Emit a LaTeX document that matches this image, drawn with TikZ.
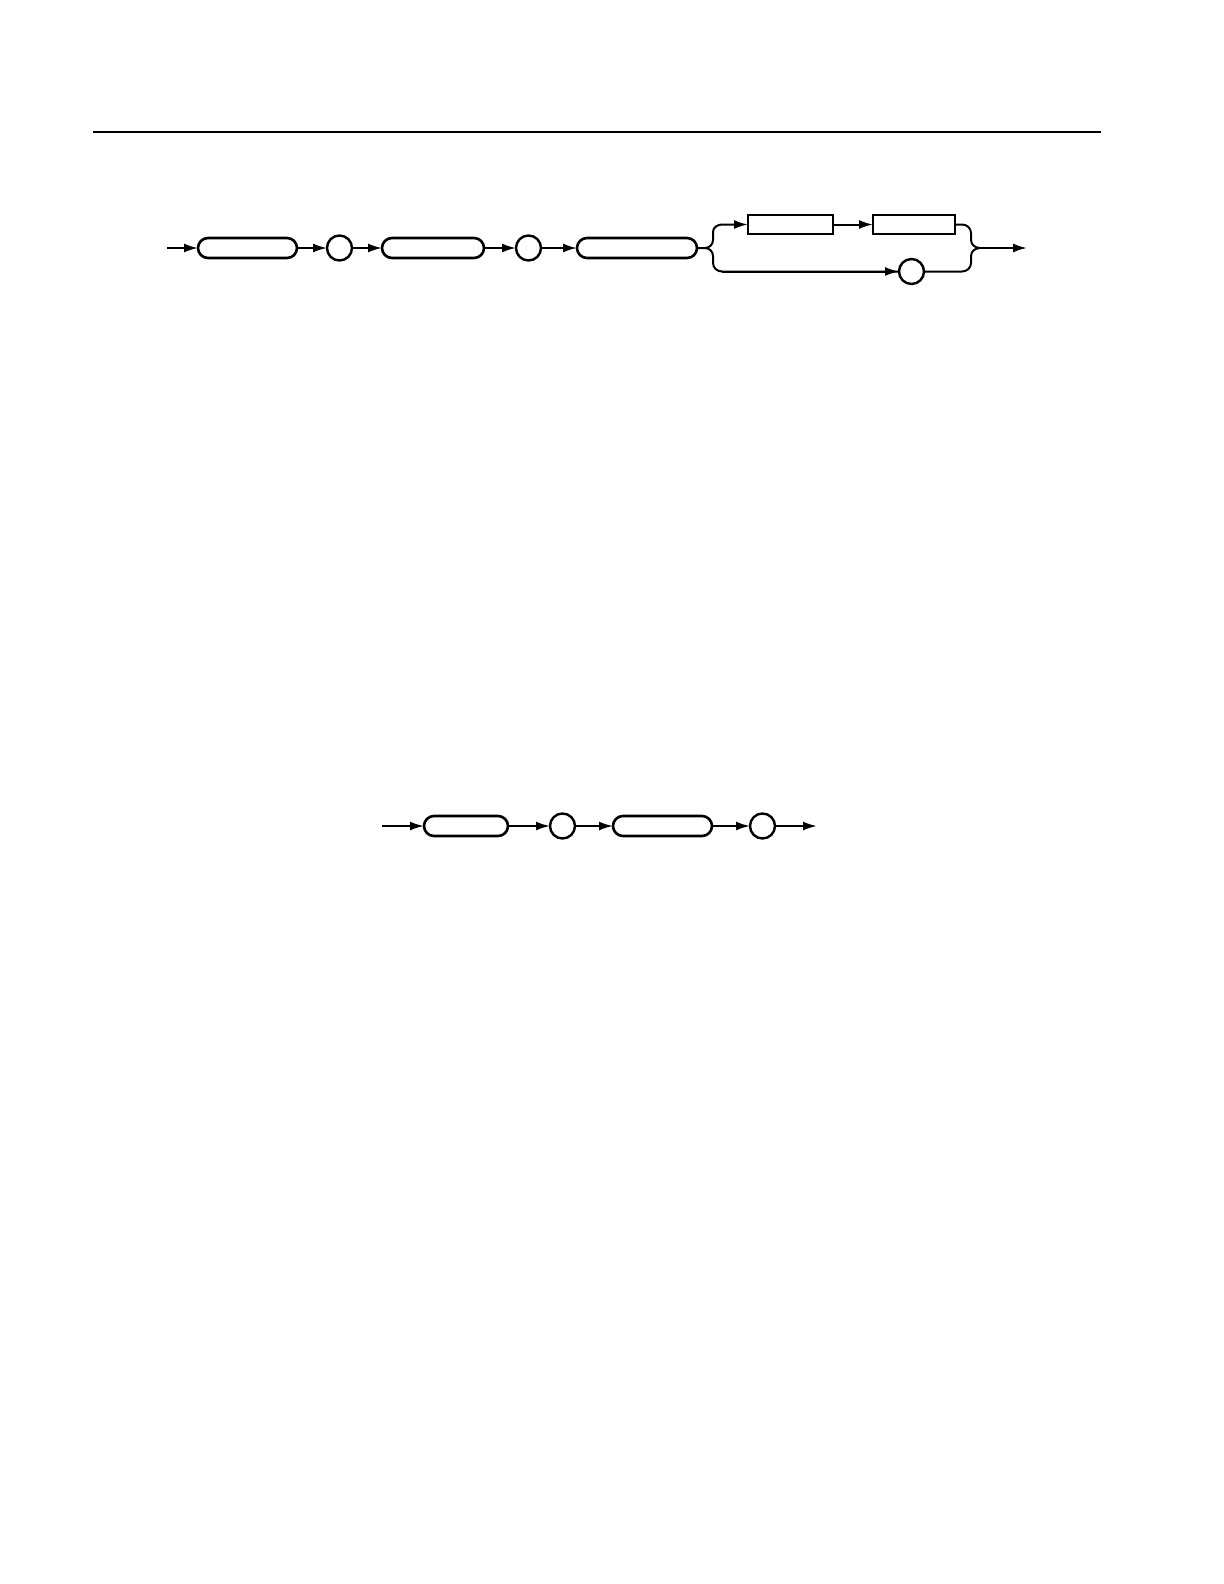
\documentclass[tikz,border=0pt]{standalone}
\usepackage{tikz}
\usetikzlibrary{positioning}
\usetikzlibrary{arrows.meta}

\begin{document}
\begin{tikzpicture}[x=0.5bp, y=-0.5bp, line width=1bp,
    >={Latex[length=7bp,width=4.5bp]},
    term/.style={draw, rectangle, rounded corners=5bp, line width=1.3bp, minimum height=10bp, inner sep=0pt, outer sep=0pt},
    plain/.style={draw, rectangle, line width=1.3bp, minimum height=9.5bp, inner sep=0pt, outer sep=0pt},
    sym/.style={draw, circle, line width=1.2bp, minimum size=12.5bp, inner sep=0pt, outer sep=0pt}]
    \useasboundingbox (0,0) rectangle (1224,1584);
    \draw (93,132) -- (1101,132);

    % first syntax line
    \coordinate (in1) at (167,248);
    \node (b1) [term, minimum width=49.5bp] at (247.5,248) {};
    \node (c1) [sym, right=15bp of b1] {};
    \node (b2) [term, right=15bp of c1, minimum width=51bp] {};
    \node (c2) [sym, right=16bp of b2] {};
    \node (b3) [term, right=18bp of c2, minimum width=60bp] {};
    \node (u1) [plain, minimum width=42.5bp] at (790.5,224.5) {};
    \node (u2) [plain, right=20bp of u1, minimum width=41bp] {};
    \node (c3) [sym] at (911.5,271.5) {};
    \coordinate (out1) at (1027,248);

    \draw[->] (in1) -- (b1);
    \draw[->] (b1) -- (c1);
    \draw[->] (c1) -- (b2);
    \draw[->] (b2) -- (c2);
    \draw[->] (c2) -- (b3);
    \draw[->] (b3.east) -- (705,248) to[out=0,in=-90] (713,240) -- (713,232) to[out=90,in=180] (722,224.5) -- (u1.west);
    \draw (705,248) to[out=0,in=90] (713,256) -- (713,263) to[out=-90,in=180] (722,271.5) -- (c3.west);
    \draw[->] (722,271.5) -- (c3.west);
    \draw[->] (u1) -- (u2);
    \draw (u2.east) -- (962,224.5) to[out=0,in=90] (971,233) -- (971,240) to[out=-90,in=180] (980,248);
    \draw (c3.east) -- (962,271.5) to[out=0,in=-90] (971,263) -- (971,256) to[out=90,in=180] (980,248);
    \draw[->] (980,248) -- (out1);

    % second syntax line
    \coordinate (in2) at (382,826);
    \node (a1) [term, minimum width=42bp] at (466,826) {};
    \node (d1) [sym, right=21bp of a1] {};
    \node (a2) [term, right=19bp of d1, minimum width=49.5bp] {};
    \node (d2) [sym, right=19bp of a2] {};
    \coordinate (out2) at (817,826);

    \draw[->] (in2) -- (a1);
    \draw[->] (a1) -- (d1);
    \draw[->] (d1) -- (a2);
    \draw[->] (a2) -- (d2);
    \draw[->] (d2) -- (out2);
\end{tikzpicture}
\end{document}
